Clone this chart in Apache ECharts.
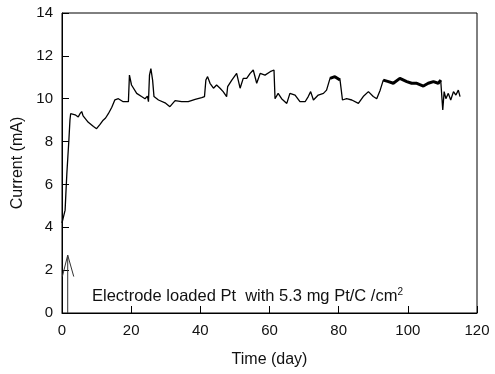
<!DOCTYPE html>
<html>
<head>
<meta charset="utf-8">
<script src="https://cdn.jsdelivr.net/npm/echarts@6/dist/echarts.min.js"></script>
<style>html,body{margin:0;padding:0;background:#fff;}#c{width:495px;height:374px;}</style>
</head>
<body>
<div id="c"></div>
<script>
var days = [0,0.3,0.9,1.1,1.4,1.7,2.0,2.3,2.5,2.8,3.8,4.7,5.2,5.7,6.1,6.6,7.6,9.1,10.0,11.0,11.9,12.6,13.4,14.4,15.3,16.3,17.7,19.2,19.5,20.1,21.6,23.0,24.0,24.7,25.0,25.3,25.7,26.2,26.6,27.9,29.8,31.2,32.7,34.6,36.5,38.5,40.4,41.2,41.6,42.1,42.8,43.8,44.7,45.7,46.6,47.6,47.9,49.1,50.5,51.5,52.4,53.4,54.4,55.3,56.3,57.3,58.7,60.2,61.3,61.6,62.5,63.5,65.0,65.9,67.4,68.8,70.3,71.2,71.9,72.7,74.1,75.6,76.5,77.5,78.9,80.4,81.1,82.3,83.8,85.7,87.1,88.6,90.0,91.0,92.0,92.9,94.4,95.8,97.7,99.7,101.1,102.6,104.5,105.9,107.4,108.8,109.5,110.1,110.5,111.0,111.7,112.4,113.2,113.9,114.6,115.1];
var currents = [4.2,4.4,4.8,5.5,6.5,7.3,8.1,9.0,9.3,9.3,9.25,9.15,9.3,9.4,9.2,9.15,8.9,8.7,8.6,8.8,9.0,9.1,9.3,9.6,9.95,10.0,9.86,9.86,11.1,10.64,10.25,10.1,10.0,10.12,9.86,11.1,11.4,10.87,10.1,9.94,9.81,9.63,9.91,9.86,9.86,9.97,10.05,10.1,10.87,11.03,10.72,10.49,10.64,10.49,10.33,10.1,10.56,10.87,11.18,10.49,10.95,10.95,11.18,11.34,10.72,11.18,11.1,11.26,11.34,10.0,10.25,10.0,9.78,10.25,10.17,9.86,9.86,10.1,10.33,9.94,10.17,10.25,10.4,10.95,11.03,10.87,9.94,10.0,9.94,9.78,10.1,10.33,10.1,10.0,10.4,10.87,10.8,10.72,10.95,10.8,10.72,10.72,10.59,10.72,10.8,10.72,10.87,9.47,10.33,10.0,10.25,9.94,10.33,10.17,10.4,10.1];
// noisy (thick-looking) stretches of the recording, in days
var noisyRanges = [[77.5, 80.4], [92.9, 109.5]];
// small marker symbol near origin
var markerDays = [0.1, 1.65, 3.4];
var markerCurrents = [1.7, 2.7, 1.7];
var markerStemDays = [1.65, 1.65];
var markerStemCurrents = [0, 2.7];
var xTicks = [0, 20, 40, 60, 80, 100, 120];
var yTicks = [0, 2, 4, 6, 8, 10, 12, 14];

function pairs(xs, ys) { return xs.map(function (x, i) { return [x, ys[i]]; }); }
var mainData = pairs(days, currents);
var noisySeries = noisyRanges.map(function (r) {
  return {
    type: 'line', showSymbol: false, silent: true,
    data: mainData.filter(function (p) { return p[0] >= r[0] && p[0] <= r[1]; }),
    lineStyle: { color: '#000', width: 3 }
  };
});

var font = '"Liberation Sans", Arial, sans-serif';
var chart = echarts.init(document.getElementById('c'));
chart.setOption({
  animation: false,
  backgroundColor: '#fff',
  title: {
    text: '{a|Electrode loaded Pt  with 5.3 mg Pt/C /cm}{s|2}',
    left: 92, top: 287, padding: 0,
    textStyle: {
      fontWeight: 'normal',
      rich: {
        a: { fontFamily: font, fontSize: 16.5, fontWeight: 'normal', color: '#111', verticalAlign: 'bottom', lineHeight: 18 },
        s: { fontFamily: font, fontSize: 10, fontWeight: 'normal', color: '#111', verticalAlign: 'top', lineHeight: 18, padding: [0, 0, 10, 0] }
      }
    }
  },
  grid: { left: 62, right: 18, top: 13, bottom: 61, show: true, borderColor: '#000', borderWidth: 1, backgroundColor: 'transparent' },
  xAxis: {
    type: 'value', min: xTicks[0], max: xTicks[xTicks.length - 1], interval: 20,
    name: 'Time (day)', nameLocation: 'middle', nameGap: 39,
    nameTextStyle: { fontFamily: font, fontSize: 16, color: '#111' },
    axisLine: { show: true, lineStyle: { color: '#000', width: 1 } },
    axisTick: { show: true, inside: true, length: 7, lineStyle: { color: '#000' } },
    axisLabel: { fontFamily: font, fontSize: 15, color: '#111', margin: 10 },
    splitLine: { show: false }
  },
  yAxis: {
    type: 'value', min: yTicks[0], max: yTicks[yTicks.length - 1], interval: 2,
    name: 'Current (mA)', nameLocation: 'middle', nameGap: 33, nameRotate: 90,
    nameTextStyle: { fontFamily: font, fontSize: 16, color: '#111' },
    axisLine: { show: true, lineStyle: { color: '#000', width: 1 } },
    axisTick: { show: true, inside: true, length: 7, lineStyle: { color: '#000' } },
    axisLabel: { fontFamily: font, fontSize: 15, color: '#111', margin: 9 },
    splitLine: { show: false }
  },
  series: [
    { type: 'line', showSymbol: false, data: mainData, lineStyle: { color: '#000', width: 1.3 } },
    { type: 'line', showSymbol: false, data: pairs(markerDays, markerCurrents), lineStyle: { color: '#333', width: 1 } },
    { type: 'line', showSymbol: false, data: pairs(markerStemDays, markerStemCurrents), lineStyle: { color: '#333', width: 1 } }
  ].concat(noisySeries)
});
</script>
</body>
</html>
